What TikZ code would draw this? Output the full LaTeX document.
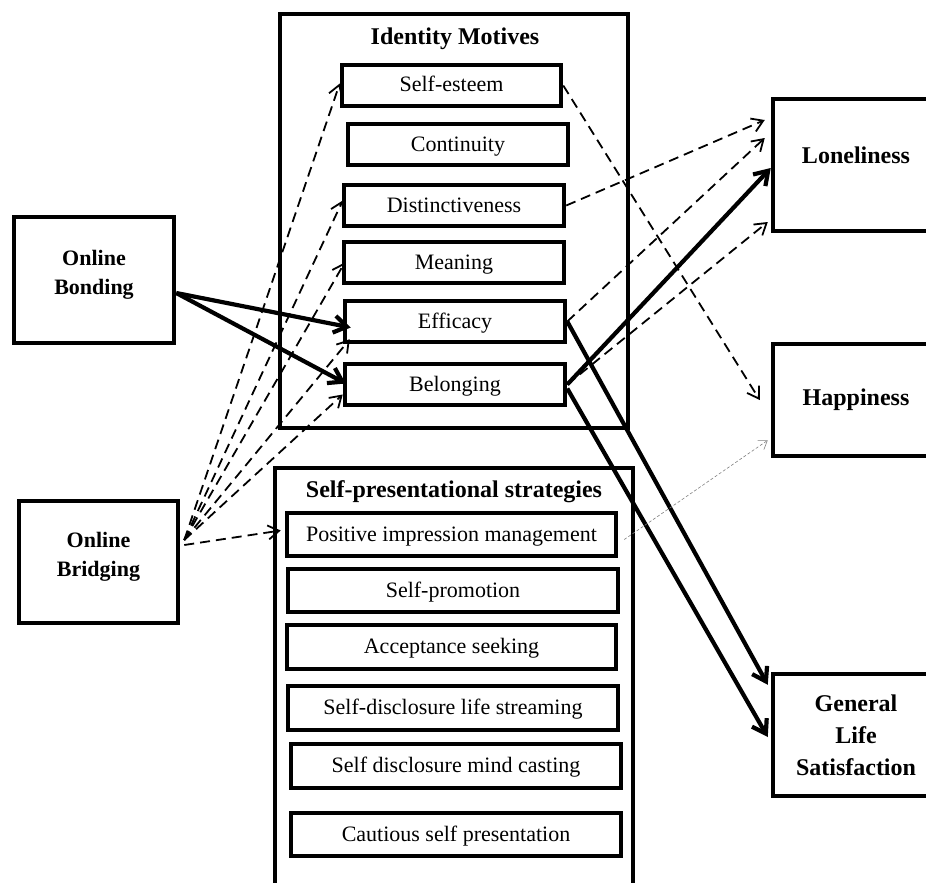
\documentclass[tikz,border=0pt]{standalone}
\usepackage{fontspec}
\setmainfont{Liberation Serif}
\usetikzlibrary{arrows.meta,calc}

\begin{document}
\begin{tikzpicture}[
  x=1pt, y=-1pt,
  frame/.style  ={draw, line width=4.5pt, inner sep=0pt},
  item/.style   ={draw, line width=4.5pt, minimum height=41pt, inner sep=0pt, text height=17pt, text depth=4pt, font=\fontsize{22}{26}\selectfont},
  src/.style    ={draw, line width=4.5pt, inner sep=0pt, align=center, text depth=15pt, font=\fontsize{22}{29}\selectfont\bfseries},
  outcome/.style={draw, line width=4.5pt, inner sep=0pt, minimum width=166pt, align=center, font=\fontsize{24}{32}\selectfont\bfseries},
  hdr/.style    ={font=\fontsize{24}{28}\selectfont\bfseries, inner sep=1pt},
  sig/.style    ={-{Straight Barb[length=13pt,width=17pt]}, line width=4.2pt},
  ns/.style     ={-{Straight Barb[length=11pt,width=14pt]}, line width=1.8pt, dash pattern=on 10pt off 6pt},
  weak/.style   ={-{Straight Barb[length=8pt,width=11pt]}, line width=0.6pt, gray, dash pattern=on 3pt off 2pt},
]
\useasboundingbox (0,0) rectangle (926,883);

% ==================== Left: online social capital ====================
\node[src, minimum width=160pt, minimum height=126pt] (bond) at (94,280)   {Online\\Bonding};
\node[src, minimum width=159pt, minimum height=122pt] (brg)  at (98.5,562) {Online\\Bridging};

% ==================== Middle top: identity motives ====================
\node[frame, minimum width=348pt, minimum height=414pt] (imb) at (454,221) {};
\node[hdr] (imtitle) at (455,39) {Identity Motives};
\node[item, minimum width=219pt] (se)  at (451.5,85.5) {Self-esteem};
\node[item, minimum width=220pt] (con) at (458,144.5)  {Continuity};
\node[item, minimum width=220pt] (dis) at (454,205.5)  {Distinctiveness};
\node[item, minimum width=220pt] (mea) at (454,262.5)  {Meaning};
\node[item, minimum width=220pt] (eff) at (455,321.5)  {Efficacy};
\node[item, minimum width=220pt] (bel) at (455,384.5)  {Belonging};

% ==================== Middle bottom: self-presentation (open at the bottom) ====================
\node[frame, minimum width=358pt, minimum height=432pt] (spb) at (454,684) {};
\node[hdr] (sptitle) at (454,492) {Self-presentational strategies};
\node[item, minimum width=329pt, minimum height=43pt] (pim)  at (451.5,534.5) {Positive impression management};
\node[item, minimum width=330pt, minimum height=43pt] (prom) at (453,590.5)   {Self-promotion};
\node[item, minimum width=329pt, minimum height=44pt] (acc)  at (451.5,647)   {Acceptance seeking};
\node[item, minimum width=330pt, minimum height=44pt] (sdls) at (453,708)     {Self-disclosure life streaming};
\node[item, minimum width=330pt, minimum height=44pt] (sdmc) at (456,766)     {Self disclosure mind casting};
\node[item, minimum width=330pt, minimum height=43pt] (caut) at (456,834.5)   {Cautious self presentation};

% ==================== Right: well-being outcomes ====================
\node[outcome, minimum height=132pt] (lone) at (856,165) {};
\node[hdr] (lonetxt) at ([yshift=10pt]lone.center) {Loneliness};
\node[outcome, minimum height=112pt] (hap) at (856,400) {Happiness};
\node[outcome, minimum height=122pt] (gls) at (856,735) {General\\Life\\Satisfaction};

% ==================== Arrows ====================
% bonding -> efficacy, belonging
\draw[sig] ([yshift=-13pt]bond.east) -- ([xshift=8pt,yshift=-6pt]eff.west);
\draw[sig] ([yshift=-13pt]bond.east) -- ([xshift=3pt,yshift=1pt]bel.west);

% bridging fan (non-significant)
\coordinate (fan) at ([xshift=4pt,yshift=22pt]brg.east);
\draw[ns] (fan) -- ([yshift=2pt]se.west);
\draw[ns] (fan) -- ([xshift=1pt,yshift=5pt]dis.west);
\draw[ns] (fan) -- ([xshift=3pt]mea.west);
\draw[ns] (fan) -- ([xshift=7pt,yshift=5pt]eff.south west);
\draw[ns] (fan) -- ([yshift=-10pt]bel.west);
\draw[ns] ([yshift=-5pt]fan) -- ([xshift=-4pt,yshift=4pt]pim.west);

% motives -> outcomes
\draw[ns] (se.east)  -- ([xshift=-11pt]hap.west);
\draw[ns] (dis.east) -- ([xshift=-6pt,yshift=45pt]lone.west);
\draw[ns] (eff.east) -- ([xshift=-6pt,yshift=27pt]lone.west);
\draw[ns] (bel.east) -- ([xshift=-3pt,yshift=-57pt]lone.west);
\draw[sig] (bel.east) -- ([yshift=-3pt]lone.west);
\draw[sig] (eff.east) -- ([xshift=-3pt,yshift=-13pt]gls.north west);
\draw[sig] ([yshift=-4pt]bel.east) -- ([xshift=-3pt,yshift=-2pt]gls.west);

% impression management -> happiness (weak)
\draw[weak] ([xshift=6pt,yshift=-5pt]pim.east) -- ([xshift=-3pt,yshift=18pt]hap.south west);

\end{tikzpicture}
\end{document}
